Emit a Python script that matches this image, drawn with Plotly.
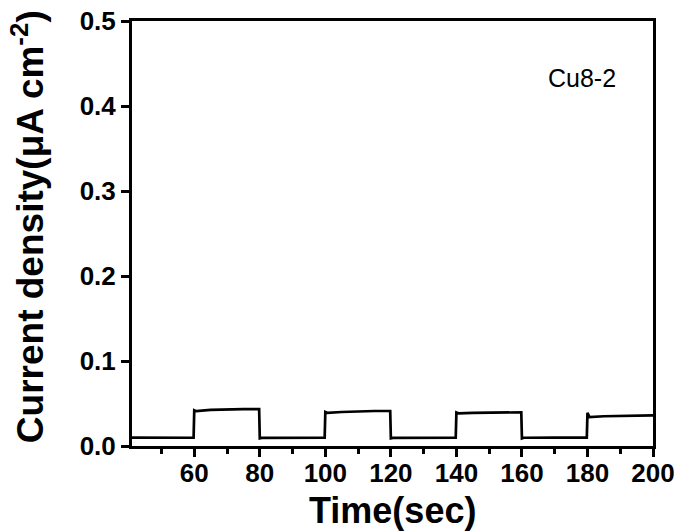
import plotly.graph_objects as go

# Data (time in sec, current density in µA cm^-2)
time_sec = [41, 50, 59.8, 60, 60.6, 65, 70, 75, 79.8, 80, 80.6, 90, 99.8,
            100, 100.6, 105, 110, 115, 119.8, 120, 120.6, 130, 139.8,
            140, 140.6, 145, 150, 155, 159.8, 160, 160.6, 170, 179.8,
            180, 180.6, 185, 190, 195, 200]
current = [0.0098, 0.0097, 0.0097, 0.042, 0.0410, 0.0425, 0.0432, 0.0435, 0.0435, 0.0090, 0.0095, 0.0097, 0.0097,
           0.0400, 0.0390, 0.0400, 0.0408, 0.0412, 0.0412, 0.0090, 0.0096, 0.0097, 0.0097,
           0.0395, 0.0385, 0.0390, 0.0394, 0.0396, 0.0396, 0.0090, 0.0097, 0.0098, 0.0098,
           0.0390, 0.0340, 0.0350, 0.0355, 0.0358, 0.0360]

x_ticks = [60, 80, 100, 120, 140, 160, 180, 200]
y_ticks = [0.0, 0.1, 0.2, 0.3, 0.4, 0.5]
y_tick_labels = ["0.0", "0.1", "0.2", "0.3", "0.4", "0.5"]
x_title = "<b>Time(sec)</b>"
y_title = "<b>Current density(μA cm<sup>-2</sup>)</b>"
sample_label = "Cu8-2"

fig = go.Figure()
fig.add_trace(go.Scatter(x=time_sec, y=current, mode="lines",
                         line=dict(color="black", width=2.7),
                         showlegend=False, hoverinfo="skip"))

font_family = "Liberation Sans, Arial, sans-serif"
fig.update_layout(
    width=681, height=532,
    margin=dict(l=132, r=28, t=21, b=86, autoexpand=False),
    paper_bgcolor="white", plot_bgcolor="white",
    font=dict(family=font_family, color="black"),
    xaxis=dict(range=[41, 200], tickvals=x_ticks, ticks="outside", ticklen=8,
               tickwidth=3, tickcolor="black",
               minor=dict(dtick=10, tick0=0, ticks="outside", ticklen=5, tickwidth=2.5, tickcolor="black"),
               showline=True, linewidth=3, linecolor="black", mirror=True,
               showgrid=False, zeroline=False, automargin=False,
               ticklabeloverflow="allow", ticklabelstandoff=-6,
               tickfont=dict(size=26, family=font_family, weight="bold")),
    yaxis=dict(range=[0, 0.5], tickvals=y_ticks, ticktext=y_tick_labels, ticks="outside", ticklen=8,
               tickwidth=3, tickcolor="black",
               showline=True, linewidth=3, linecolor="black", mirror=True,
               showgrid=False, zeroline=False, automargin=False,
               ticklabeloverflow="allow",
               tickfont=dict(size=26, family=font_family, weight="bold")),
    annotations=[
        dict(x=0.864, y=0.867, xref="paper", yref="paper", text=sample_label,
             showarrow=False, font=dict(size=25, family=font_family, color="black"),
             xanchor="center", yanchor="middle"),
        dict(x=0.5, y=0, xref="paper", yref="paper", text=x_title, showarrow=False,
             font=dict(size=36, family=font_family, color="black"),
             xanchor="center", yanchor="middle", yshift=-64),
        dict(x=0, y=0.515, xref="paper", yref="paper", text=y_title, showarrow=False,
             textangle=-90, font=dict(size=37, family=font_family, color="black"),
             xanchor="center", yanchor="middle", xshift=-104),
    ],
)

fig.write_html("out.html", config={"displayModeBar": False},
               post_script="document.body.style.margin='0';")
